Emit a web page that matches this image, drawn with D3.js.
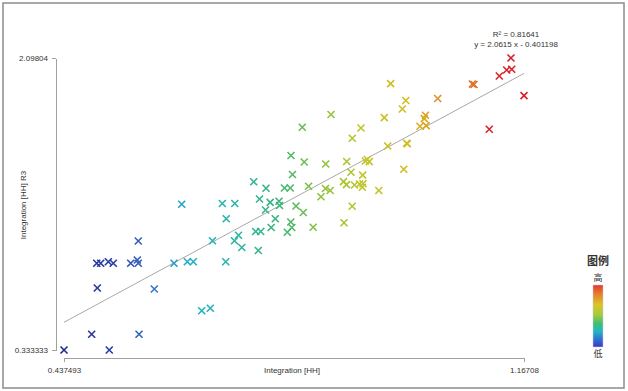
<!DOCTYPE html>
<html lang="en">
<head>
<meta charset="UTF-8">
<title>Integration [HH] vs R3</title>
<script src="https://d3js.org/d3.v7.min.js"></script>
<style>
  body { margin: 0; background: #fff; font-family: "Liberation Sans", Arial, sans-serif; }
  .axis path, .axis line { stroke: #a0a0a0; shape-rendering: crispEdges; }
  .axis text { fill: #333; font-size: 8px; font-family: "Liberation Sans", Arial, sans-serif; }
  .lbl { fill: #333; font-size: 8px; }
</style>
</head>
<body>
<div id="chart"></div>
<script>
// values
const xValues = [
  0.4375, 0.4814, 0.5093, 0.5565, 0.4903, 0.5807, 0.4894, 0.4957, 0.5078, 0.5157,
  0.5433, 0.5538, 0.5553, 0.5553, 0.6120, 0.6331, 0.6426, 0.6242, 0.6559, 0.6695,
  0.6886, 0.7084, 0.6948, 0.6730, 0.6940, 0.7143, 0.7079, 0.7195, 0.7457, 0.7999,
  0.7384, 0.7579, 0.7872, 0.7963, 0.8254, 0.7476, 0.7645, 0.7785, 0.7793, 0.7572,
  0.8055, 0.8170, 0.7726, 0.7661, 0.7972, 0.7988, 0.7917, 0.7415, 0.7495, 0.8327,
  0.8816, 0.8610, 0.8154, 0.9455, 0.9556, 0.9085, 0.8947, 0.9509, 0.9810, 0.9820,
  0.9796, 0.9741, 1.0108, 1.0089, 1.0021, 1.0119, 1.0302, 1.0851, 1.0878, 1.1464,
  1.1396, 1.1476, 1.1279, 1.16708, 1.1120, 0.7975, 0.8185, 0.8526, 0.8859, 0.9154,
  0.9217, 0.9185, 0.8927, 0.9112, 0.9764, 0.8808, 0.8855, 0.8982, 0.9062, 0.9117,
  0.9106, 0.9368, 0.8522, 0.8597, 0.8451, 0.8946
];
const yValues = [
  0.3333, 0.4282, 0.3333, 0.4282, 0.7080, 0.7020, 0.8573, 0.8573, 0.8670, 0.8573,
  0.8573, 0.8773, 0.8573, 0.9921, 0.8573, 0.8670, 0.8670, 1.2139, 0.5708, 0.5853,
  1.2187, 1.2187, 1.1263, 0.9933, 0.8670, 1.0265, 0.9933, 0.9528, 0.9347, 1.3940,
  1.3499, 1.3106, 1.3124, 1.3124, 1.3227, 1.2459, 1.2254, 1.2326, 1.2067, 1.1795,
  1.2036, 1.1644, 1.1263, 1.0737, 1.1069, 1.0737, 1.0447, 1.0495, 1.0495, 1.0749,
  1.1027, 1.7567, 1.6793, 1.7373, 1.9428, 1.6751, 1.6134, 1.5663, 1.5826, 1.5796,
  1.8413, 1.7899, 1.7524, 1.7313, 1.6859, 1.6890, 1.8534, 1.9410, 1.9380, 2.09804,
  2.0256, 2.0298, 1.9894, 1.8703, 1.6672, 1.5089, 1.4696, 1.4575, 1.4726, 1.4756,
  1.4714, 1.4847, 1.4073, 1.3898, 1.4260, 1.3511, 1.3330, 1.3306, 1.3366, 1.3384,
  1.3167, 1.2973, 1.3094, 1.2973, 1.2592, 1.2024
];
const xTicks = [0.437493, 1.16708];
const yTicks = [0.333333, 2.09804];
const slope = 2.0615, intercept = -0.401198, rSquared = 0.81641;
const legendLabels = ["高", "低"];

const width = 628, height = 391;
const svg = d3.select("#chart").append("svg")
  .attr("width", width).attr("height", height);

// outer frame
svg.append("rect")
  .attr("x", 3).attr("y", 3).attr("width", 621).attr("height", 385)
  .attr("fill", "none").attr("stroke", "#8c8c8c").attr("stroke-width", 1.5);

const x = d3.scaleLinear().domain([xTicks[0], xTicks[1]]).range([64, 524]);
const y = d3.scaleLinear().domain([yTicks[0], yTicks[1]]).range([350, 58]);

// colour by x, blue -> red
const colorStops = ["#1f2a8c", "#2a40a8", "#3a6cc4", "#22b0c8", "#2ab6a6", "#3cb47a",
                    "#88c23e", "#c0c62a", "#d6ba1e", "#e08a2a", "#e0722a", "#d8262c", "#d8202a"];
const colorPos = [0, 0.12, 0.18, 0.27, 0.37, 0.47, 0.55, 0.65, 0.76, 0.82, 0.895, 0.915, 1];
const color = d3.scaleLinear()
  .domain(colorPos.map(t => xTicks[0] + t * (xTicks[1] - xTicks[0])))
  .range(colorStops);

// axes
svg.append("g").attr("class", "axis")
  .attr("transform", "translate(56,0)")
  .call(d3.axisLeft(y).tickValues(yTicks).tickFormat(d => String(d))
    .tickSize(4).tickSizeOuter(0).tickPadding(4));

svg.append("g").attr("class", "axis")
  .attr("transform", "translate(0,358)")
  .call(d3.axisBottom(x).tickValues(xTicks).tickFormat(d => String(d))
    .tickSize(4).tickSizeOuter(0).tickPadding(5));

svg.append("text").attr("class", "lbl")
  .attr("x", 292).attr("y", 373).attr("text-anchor", "middle")
  .text("Integration [HH]");

svg.append("text").attr("class", "lbl")
  .attr("transform", "translate(26,205) rotate(-90)")
  .attr("text-anchor", "middle")
  .text("Integration [HH] R3");

// regression line
svg.append("line")
  .attr("x1", x(xTicks[0])).attr("y1", y(slope * xTicks[0] + intercept))
  .attr("x2", x(xTicks[1])).attr("y2", y(slope * xTicks[1] + intercept))
  .attr("stroke", "#a8a8a8").attr("stroke-width", 1);

svg.append("text").attr("class", "lbl")
  .attr("x", 516).attr("y", 37).attr("text-anchor", "middle")
  .text("R² = " + rSquared);
svg.append("text").attr("class", "lbl")
  .attr("x", 516).attr("y", 47).attr("text-anchor", "middle")
  .text("y = " + slope + " x - " + Math.abs(intercept));

// points
const points = xValues.map((v, i) => ({x: v, y: yValues[i]}));
svg.append("g").selectAll("path")
  .data(points)
  .enter().append("path")
  .attr("transform", d => "translate(" + x(d.x) + "," + y(d.y) + ")")
  .attr("d", "M-3.5,-3.5L3.5,3.5M-3.5,3.5L3.5,-3.5")
  .attr("fill", "none")
  .attr("stroke", d => color(d.x))
  .attr("stroke-width", 1.6);

// legend
const defs = svg.append("defs");
const grad = defs.append("linearGradient").attr("id", "lg")
  .attr("x1", 0).attr("y1", 0).attr("x2", 0).attr("y2", 1);
const legendStops = [
  [0, "#e2382e"], [0.15, "#e6802a"], [0.32, "#d8c626"], [0.48, "#a4cc3a"],
  [0.62, "#40bf72"], [0.75, "#22b6c2"], [0.88, "#3070d0"], [1, "#3a38c8"]
];
grad.selectAll("stop").data(legendStops).enter().append("stop")
  .attr("offset", d => d[0]).attr("stop-color", d => d[1]);

svg.append("text")
  .attr("x", 598).attr("y", 265).attr("text-anchor", "middle")
  .attr("font-size", 11).attr("font-weight", "bold").attr("fill", "#333")
  .attr("font-family", "'Noto Sans CJK SC', sans-serif")
  .text("图例");
svg.append("text")
  .attr("x", 598).attr("y", 281).attr("text-anchor", "middle")
  .attr("font-size", 9).attr("fill", "#333")
  .attr("font-family", "'Noto Sans CJK SC', sans-serif")
  .text(legendLabels[0]);
svg.append("rect")
  .attr("x", 593).attr("y", 285).attr("width", 10).attr("height", 62)
  .attr("fill", "url(#lg)").attr("stroke", "#d0c8e0").attr("stroke-width", 0.5);
svg.append("text")
  .attr("x", 598).attr("y", 357).attr("text-anchor", "middle")
  .attr("font-size", 9).attr("fill", "#333")
  .attr("font-family", "'Noto Sans CJK SC', sans-serif")
  .text(legendLabels[1]);
</script>
</body>
</html>
